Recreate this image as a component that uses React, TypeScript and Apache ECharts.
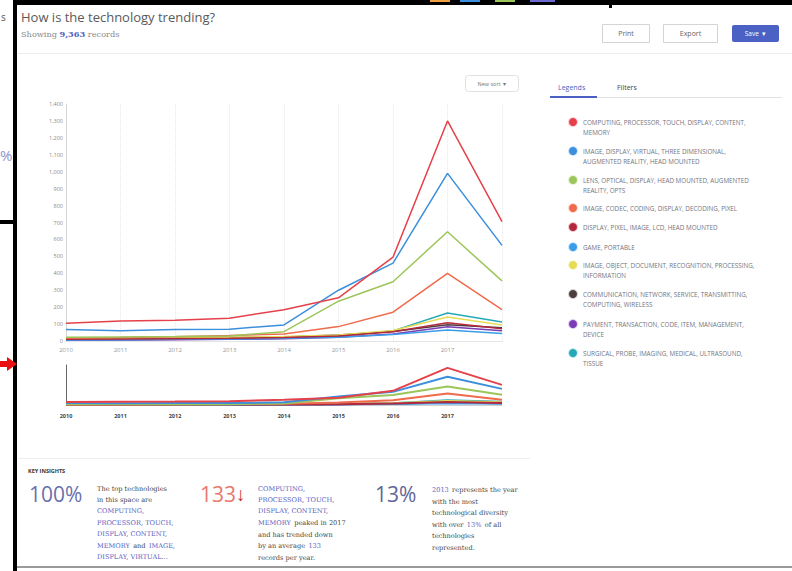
import React, { useEffect, useRef } from "react";
import * as echarts from "echarts";

const YEARS = ["2010", "2011", "2012", "2013", "2014", "2015", "2016", "2017", "2018"];
const Y_TICKS_MAX = 1400;

const NAMES = [
  "COMPUTING, PROCESSOR, TOUCH, DISPLAY, CONTENT,\nMEMORY",
  "IMAGE, DISPLAY, VIRTUAL, THREE DIMENSIONAL,\nAUGMENTED REALITY, HEAD MOUNTED",
  "LENS, OPTICAL, DISPLAY, HEAD MOUNTED, AUGMENTED\nREALITY, OPTS",
  "IMAGE, CODEC, CODING, DISPLAY, DECODING, PIXEL",
  "DISPLAY, PIXEL, IMAGE, LCD, HEAD MOUNTED",
  "GAME, PORTABLE",
  "IMAGE, OBJECT, DOCUMENT, RECOGNITION, PROCESSING,\nINFORMATION",
  "COMMUNICATION, NETWORK, SERVICE, TRANSMITTING,\nCOMPUTING, WIRELESS",
  "PAYMENT, TRANSACTION, CODE, ITEM, MANAGEMENT,\nDEVICE",
  "SURGICAL, PROBE, IMAGING, MEDICAL, ULTRASOUND,\nTISSUE",
];
const COLORS = [
  "#e5414a", "#3b8fdc", "#9cc55a", "#f06b4c", "#b3283c",
  "#3a9de8", "#e6dc55", "#4b3f3b", "#7a3db6", "#25a9b8",
];

const computing = [105, 118, 122, 135, 185, 255, 495, 1300, 705];
const imageDisplay = [68, 60, 68, 70, 95, 300, 460, 990, 565];
const lensOptical = [22, 24, 26, 30, 55, 235, 350, 645, 355];
const codec = [18, 20, 25, 32, 42, 85, 170, 400, 185];
const pixelLcd = [10, 12, 14, 16, 20, 30, 55, 108, 72];
const gamePortable = [6, 8, 10, 12, 16, 22, 38, 65, 45];
const objectRecog = [12, 14, 18, 22, 26, 35, 62, 142, 94];
const communication = [14, 15, 16, 20, 24, 36, 56, 96, 78];
const payment = [5, 6, 8, 10, 14, 22, 42, 84, 60];
const surgical = [6, 8, 10, 12, 16, 28, 60, 165, 112];

const SERIES_DATA = [
  computing, imageDisplay, lensOptical, codec, pixelLcd,
  gamePortable, objectRecog, communication, payment, surgical,
];

const LEGEND_Y = [122, 151, 180, 208, 227, 247, 265, 294, 324, 353];

export default function App() {
  const ref = useRef<HTMLDivElement>(null);
  useEffect(() => {
    if (!ref.current) return;
    const chart = echarts.init(ref.current, null, { renderer: "svg" });
    const FONT = "'Open Sans', 'Noto Sans', sans-serif";
    const SERIF = "'DejaVu Serif', 'Liberation Serif', serif";

    const mainSeries = SERIES_DATA.map((d, i) => ({
      type: "line",
      name: NAMES[i],
      data: d,
      xAxisIndex: 0,
      yAxisIndex: 0,
      symbol: "none",
      lineStyle: { width: 1.5, color: COLORS[i] },
      itemStyle: { color: COLORS[i] },
      z: 20 - i,
    }));
    const miniSeries = SERIES_DATA.map((d, i) => ({
      type: "line",
      name: NAMES[i] + " mini",
      data: d,
      xAxisIndex: 1,
      yAxisIndex: 1,
      symbol: "none",
      lineStyle: { width: 2, color: COLORS[i] },
      itemStyle: { color: COLORS[i] },
      z: 20 - i,
    }));

    const legendEls: any[] = [];
    NAMES.forEach((n, i) => {
      legendEls.push({
        type: "circle",
        shape: { cx: 573, cy: LEGEND_Y[i], r: 4 },
        style: { fill: COLORS[i], stroke: COLORS[i] + "44", lineWidth: 2 },
      });
      legendEls.push({
        type: "text",
        x: 583,
        y: LEGEND_Y[i] - 5,
        style: {
          text: n,
          fill: "#747480",
          fontSize: 6.3,
          lineHeight: 10,
          fontFamily: FONT,
          verticalAlign: "top",
        },
      });
    });

    const p1 = [
      "{t|The top technologies}",
      "{t|in this space are}",
      "{b|COMPUTING,}",
      "{b|PROCESSOR, TOUCH,}",
      "{b|DISPLAY, CONTENT,}",
      "{b|MEMORY} {t|and} {b|IMAGE,}",
      "{b|DISPLAY, VIRTUAL...}",
    ].join("\n");
    const p2 = [
      "{b|COMPUTING,}",
      "{b|PROCESSOR, TOUCH,}",
      "{b|DISPLAY, CONTENT,}",
      "{b|MEMORY} {t|peaked in 2017}",
      "{t|and has trended down}",
      "{t|by an average} {b|133}",
      "{t|records per year.}",
    ].join("\n");
    const p3 = [
      "{b|2013} {t|represents the year}",
      "{t|with the most}",
      "{t|technological diversity}",
      "{t|with over} {b|13%} {t|of all}",
      "{t|technologies}",
      "{t|represented.}",
    ].join("\n");
    const rich = {
      t: { fill: "#444", fontSize: 6.6, fontFamily: SERIF, lineHeight: 11.3 },
      b: { fill: "#5a62c0", fontSize: 6.6, fontFamily: SERIF, lineHeight: 11.3 },
    };

    const option: any = {
      animation: false,
      backgroundColor: "#ffffff",
      textStyle: { fontFamily: FONT },
      grid: [
        { left: 66, top: 104, width: 436, height: 237 },
        { left: 66, top: 365, width: 436, height: 40 },
      ],
      xAxis: [
        {
          type: "category",
          gridIndex: 0,
          data: YEARS,
          boundaryGap: false,
          axisTick: { show: false },
          axisLine: { lineStyle: { color: "#e4e4e4" } },
          axisLabel: {
            fontSize: 6,
            color: "#999",
            margin: 6,
            formatter: (v: string, idx: number) => (idx === YEARS.length - 1 ? "" : v),
          },
          splitLine: { show: true, lineStyle: { color: "#e8e8e8", type: "dotted" } },
        },
        {
          type: "category",
          gridIndex: 1,
          data: YEARS,
          boundaryGap: false,
          axisTick: { show: false },
          axisLine: { lineStyle: { color: "#cfcfcf" } },
          axisLabel: {
            fontSize: 5.5,
            fontWeight: "bold",
            color: "#444",
            margin: 8,
            formatter: (v: string, idx: number) => (idx === YEARS.length - 1 ? "" : v),
          },
          splitLine: { show: false },
        },
      ],
      yAxis: [
        {
          type: "value",
          gridIndex: 0,
          min: 0,
          max: Y_TICKS_MAX,
          interval: 100,
          axisLine: { show: true, lineStyle: { color: "#d6d6d6" } },
          axisTick: { show: false },
          axisLabel: {
            fontSize: 5.5,
            color: "#888",
            margin: 3,
            formatter: (v: number) => v.toLocaleString("en-US"),
          },
          splitLine: { show: false },
        },
        {
          type: "value",
          gridIndex: 1,
          min: 0,
          max: Y_TICKS_MAX,
          axisLine: { show: true, lineStyle: { color: "#666" } },
          axisTick: { show: false },
          axisLabel: { show: false },
          splitLine: { show: false },
        },
      ],
      series: [...mainSeries, ...miniSeries],
      graphic: {
        elements: [
          // frame
          { type: "rect", shape: { x: 13, y: 0, width: 779, height: 5 }, style: { fill: "#000" } },
          { type: "rect", shape: { x: 13, y: 0, width: 4, height: 571 }, style: { fill: "#000" } },
          { type: "rect", shape: { x: 609, y: 0, width: 3, height: 8 }, style: { fill: "#000" } },
          { type: "rect", shape: { x: 0, y: 220, width: 17, height: 4 }, style: { fill: "#000" } },
          { type: "rect", shape: { x: 17, y: 566, width: 775, height: 2 }, style: { fill: "#9a9a9a" } },
          { type: "rect", shape: { x: 430, y: 0, width: 20, height: 2 }, style: { fill: "#f0a040" } },
          { type: "rect", shape: { x: 460, y: 0, width: 20, height: 2 }, style: { fill: "#3b8fdc" } },
          { type: "rect", shape: { x: 495, y: 0, width: 20, height: 2 }, style: { fill: "#9cc55a" } },
          { type: "rect", shape: { x: 530, y: 0, width: 25, height: 2 }, style: { fill: "#6a6ad0" } },
          { type: "text", x: 1, y: 17, style: { text: "s", fill: "#555", fontSize: 10, fontFamily: FONT, verticalAlign: "middle" } },
          { type: "text", x: 0, y: 155, style: { text: "%", fill: "#8f94c8", fontSize: 15, fontFamily: FONT, verticalAlign: "middle" } },
          { type: "polygon", shape: { points: [[0, 361], [7, 361], [7, 357], [17, 364], [7, 371], [7, 367], [0, 367]] }, style: { fill: "#e81010" } },
          // header
          { type: "text", x: 21, y: 17, style: { text: "How is the technology trending?", fill: "#5a5a5a", fontSize: 13, fontFamily: FONT, verticalAlign: "middle" } },
          {
            type: "text", x: 21, y: 34,
            style: {
              text: "{a|Showing }{b|9,363}{a| records}",
              verticalAlign: "middle",
              rich: {
                a: { fill: "#888", fontSize: 8.2, fontFamily: SERIF },
                b: { fill: "#4a5fc1", fontSize: 8.2, fontWeight: "bold", fontFamily: SERIF },
              },
            },
          },
          { type: "rect", shape: { x: 602.5, y: 24.5, width: 47, height: 18 }, style: { fill: "#fff", stroke: "#d4d4d4", lineWidth: 1 } },
          { type: "text", x: 626, y: 33.5, style: { text: "Print", fill: "#666", fontSize: 7, fontFamily: FONT, align: "center", verticalAlign: "middle" } },
          { type: "rect", shape: { x: 663.5, y: 24.5, width: 54, height: 18 }, style: { fill: "#fff", stroke: "#d4d4d4", lineWidth: 1 } },
          { type: "text", x: 690.5, y: 33.5, style: { text: "Export", fill: "#666", fontSize: 7, fontFamily: FONT, align: "center", verticalAlign: "middle" } },
          { type: "rect", shape: { x: 732, y: 25, width: 47, height: 17, r: 2 }, style: { fill: "#4b62c4" } },
          { type: "text", x: 755.5, y: 33.5, style: { text: "Save  \u25BE", fill: "#fff", fontSize: 6.5, fontFamily: FONT, align: "center", verticalAlign: "middle" } },
          { type: "line", shape: { x1: 18, y1: 53.5, x2: 792, y2: 53.5 }, style: { stroke: "#ececec", lineWidth: 1 } },
          // dropdown
          { type: "rect", shape: { x: 465.5, y: 75.5, width: 53, height: 16, r: 3 }, style: { fill: "#fff", stroke: "#e0e0e0", lineWidth: 1 } },
          { type: "text", x: 492, y: 83.5, style: { text: "New sort  \u25BE", fill: "#777", fontSize: 5.5, fontFamily: FONT, align: "center", verticalAlign: "middle" } },
          // tabs
          { type: "text", x: 558, y: 87, style: { text: "Legends", fill: "#4a5fc1", fontSize: 7, fontFamily: FONT, verticalAlign: "middle" } },
          { type: "text", x: 617, y: 87, style: { text: "Filters", fill: "#444", fontSize: 7, fontFamily: FONT, verticalAlign: "middle" } },
          { type: "line", shape: { x1: 597, y1: 97.5, x2: 782, y2: 97.5 }, style: { stroke: "#e2e2e2", lineWidth: 1 } },
          { type: "rect", shape: { x: 550, y: 96, width: 47, height: 2 }, style: { fill: "#4a5fc1" } },
          ...legendEls,
          // key insights
          { type: "line", shape: { x1: 18, y1: 458.5, x2: 530, y2: 458.5 }, style: { stroke: "#efefef", lineWidth: 1 } },
          { type: "text", x: 28, y: 471, style: { text: "KEY INSIGHTS", fill: "#333", fontSize: 5.5, fontWeight: "bold", fontFamily: FONT, verticalAlign: "middle" } },
          { type: "text", x: 29, y: 494, style: { text: "100%", fill: "#6a70ad", fontSize: 21, fontFamily: FONT, verticalAlign: "middle" } },
          {
            type: "text", x: 200, y: 494,
            style: {
              text: "{n|133}{a|\u2193}",
              verticalAlign: "middle",
              rich: {
                n: { fill: "#e9786f", fontSize: 21, fontFamily: FONT },
                a: { fill: "#c9302c", fontSize: 19, fontWeight: "bold", fontFamily: FONT },
              },
            },
          },
          { type: "text", x: 375, y: 494, style: { text: "13%", fill: "#5f6698", fontSize: 21, fontFamily: FONT, verticalAlign: "middle" } },
          { type: "text", x: 97, y: 483, style: { text: p1, rich, verticalAlign: "top" } },
          { type: "text", x: 258, y: 483, style: { text: p2, rich, verticalAlign: "top" } },
          { type: "text", x: 432, y: 484, style: { text: p3, rich, verticalAlign: "top" } },
        ],
      },
    };
    chart.setOption(option);
    return () => chart.dispose();
  }, []);
  return (
    <div
      ref={ref}
      style={{ position: "fixed", left: 0, top: 0, width: 792, height: 571, background: "#fff" }}
    />
  );
}
